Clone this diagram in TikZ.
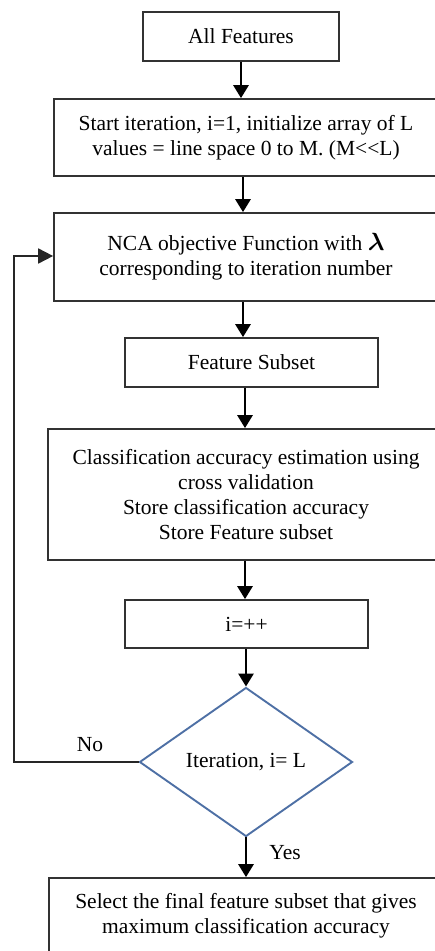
\documentclass[tikz,border=0pt]{standalone}
\usepackage{fontspec}
\setmainfont{Liberation Serif}
\usetikzlibrary{shapes.geometric,arrows.meta}
\definecolor{boxline}{RGB}{50,50,50}
\definecolor{decblue}{RGB}{78,112,165}
\begin{document}
\begin{tikzpicture}[x=1pt,y=-1pt,
  txt/.style={font=\fontsize{21.5}{25}\selectfont},
  box/.style={txt,draw=boxline,line width=1.7pt,align=center,inner sep=0pt},
  decision/.style={txt,diamond,draw=decblue,line width=1.9pt,inner sep=0pt,align=center},
  flow/.style={-{Triangle[width=15pt,length=13pt]},line width=2.8pt},
  back/.style={-{Triangle[width=15pt,length=15pt]},line width=1.8pt,draw=black!85},
  lbl/.style={txt,inner sep=0pt}]
\useasboundingbox (0,0) rectangle (435,951);
\clip (0,0) rectangle (435,951);

% process steps
\node[box,minimum width=196,minimum height=49] (all) at (241,36.5) {All Features};
\node[box,minimum width=384,minimum height=77] (init) at (246,137.5)
  {Start iteration, i=1, initialize array of L\\values = line space 0 to M. (M{<}{<}L)};
\node[box,minimum width=384,minimum height=88] (nca) at (246,257)
  {NCA objective Function with {\fontsize{29}{25}\selectfont\boldmath$\lambda$}\\corresponding to iteration number};
\node[box,minimum width=253,minimum height=49] (subset) at (251.5,362.5) {Feature Subset};
\node[box,minimum width=396,minimum height=131] (acc) at (246,494.5)
  {Classification accuracy estimation using\\cross validation\\Store classification accuracy\\Store Feature subset};
\node[box,minimum width=243,minimum height=48] (incr) at (246.5,624) {i=++};
\node[decision,minimum width=213,minimum height=149] (test) at (246,762) {Iteration, i= L};
\node[box,minimum width=394,minimum height=76] (final) at (246,916)
  {Select the final feature subset that gives\\maximum classification accuracy};

% arrow columns
\coordinate (colA) at (243,0);
\coordinate (colB) at (245,0);
\coordinate (loopx) at (14,0);

% connectors
\draw[flow] (all.south) -- (all.south |- init.north);
\draw[flow] (init.south -| colA) -- (nca.north -| colA);
\draw[flow] (nca.south -| colA) -- (subset.north -| colA);
\draw[flow] (subset.south -| colB) -- (acc.north -| colB);
\draw[flow] (acc.south -| colB) -- (incr.north -| colB);
\draw[flow] (incr.south -| test.north) -- (test.north);
\draw[flow] (test.south) -- node[lbl,pos=0.37,right=22pt] (yes) {Yes} (test.south |- final.north);
\draw[back] (test.west) -- node[lbl,pos=0.39,above=9pt] (no) {No} (test.west -| loopx)
  |- ([yshift=1pt]nca.west);
\end{tikzpicture}
\end{document}
